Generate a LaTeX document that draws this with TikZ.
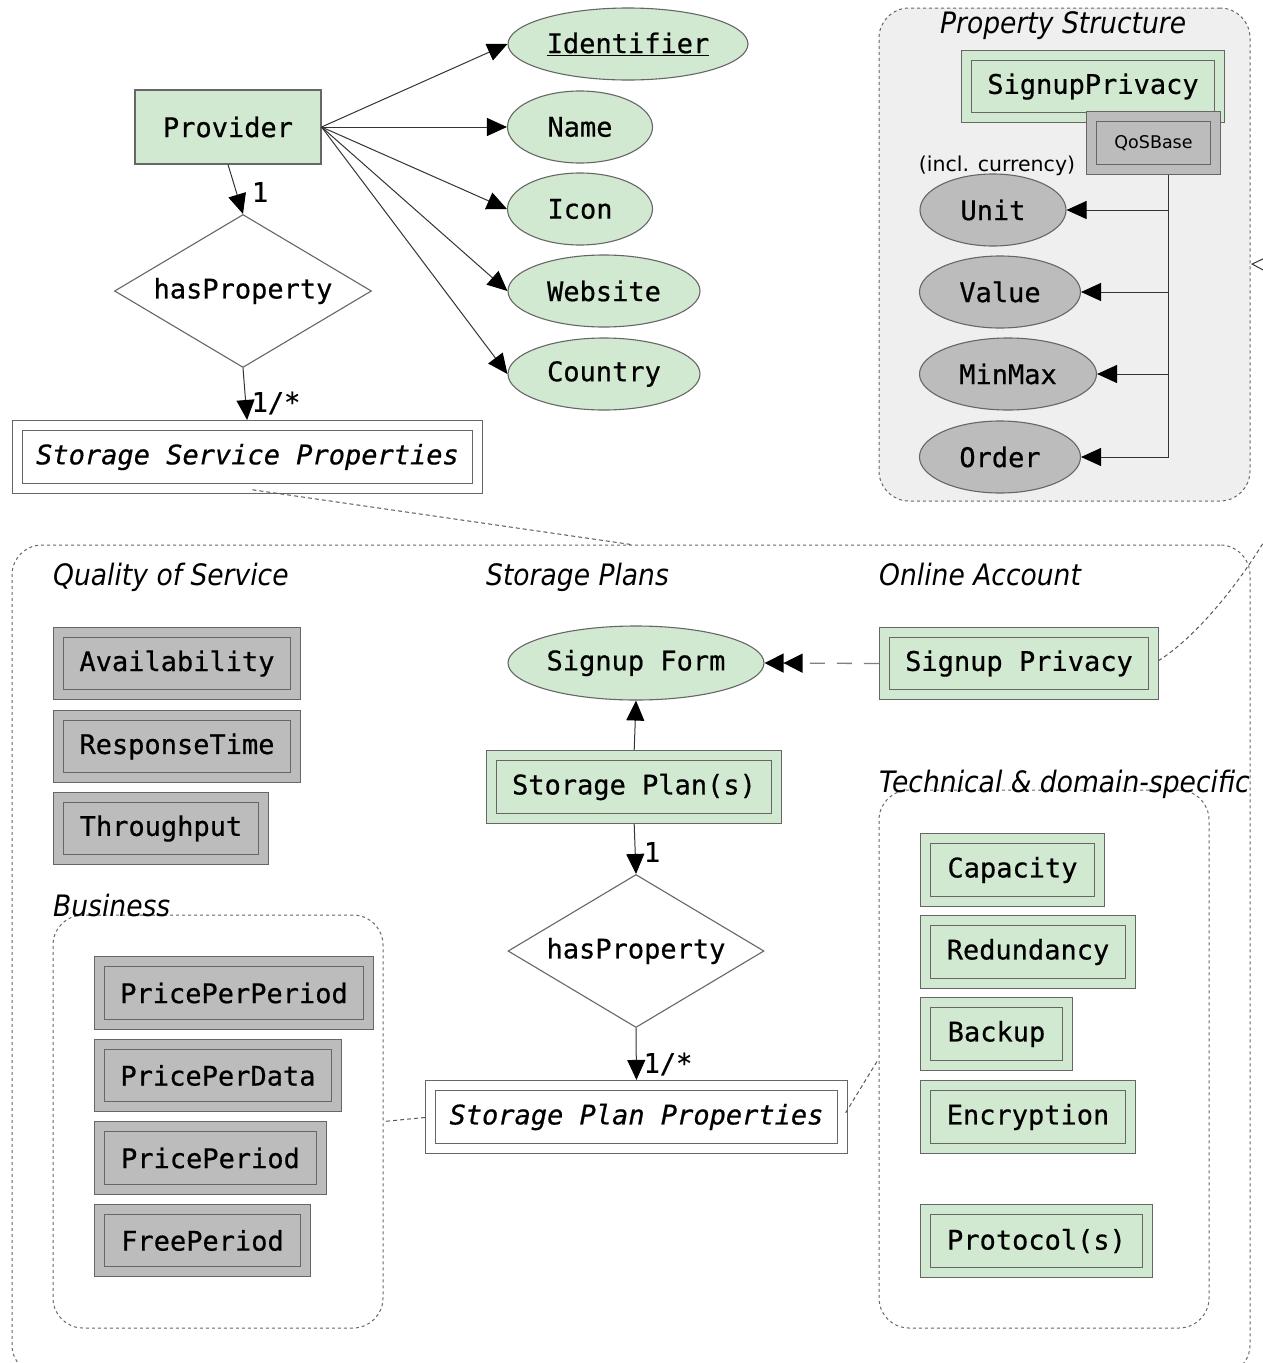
\documentclass[tikz,border=0pt]{standalone}
\usepackage{fontspec}
\setmainfont{DejaVu Sans}
\newfontfamily\monof[FakeBold=0.6]{DejaVu Sans Mono}
\newfontfamily\ttlf[FakeStretch=0.9]{DejaVu Sans}
\usetikzlibrary{shapes.geometric,arrows.meta}
\definecolor{gfill}{HTML}{D2E9D1}
\definecolor{qfill}{HTML}{BCBCBC}
\definecolor{bord}{HTML}{666666}
\definecolor{psbg}{HTML}{EFEFEF}
\tikzset{
 mtext/.style={font=\monof\fontsize{27}{32}\selectfont},
 dbl/.style={rectangle, draw=bord, line width=1.1pt, double distance=8.8pt, mtext, inner sep=0pt},
 gbox/.style={dbl, fill=gfill, double=gfill},
 qbox/.style={dbl, fill=qfill, double=qfill},
 wbox/.style={dbl, fill=white, double=white},
 sbox/.style={rectangle, draw=bord, line width=1.1pt, mtext, inner sep=0pt},
 gell/.style={ellipse, draw=bord, line width=1.1pt, fill=gfill, inner sep=0pt, mtext},
 qell/.style={ellipse, draw=bord, line width=1.1pt, fill=qfill, inner sep=0pt, mtext},
 rel/.style={diamond, draw=bord, line width=1.1pt, fill=white, inner sep=0pt, aspect=1.68, mtext},
 conn/.style={draw=black!80, line width=1pt, -{Triangle[length=20pt,width=18pt,color=black]}},
 card/.style={mtext, inner sep=0pt},
 ttl/.style={font=\ttlf\itshape\fontsize{29.5}{34}\selectfont, inner sep=0pt, anchor=base west},
 grp/.style={rectangle, draw=black!60, dash pattern=on 3pt off 3pt, line width=1pt, rounded corners=30pt, inner sep=0pt},
 assoc/.style={draw=black!65, dash pattern=on 4pt off 3pt, line width=1pt},
}
\newcommand\mybox[7]{\node[#2, minimum width={#5-#3-11}, minimum height={#6-#4-11}] (#1) at ({(#3+#5)/2},{(#4+#6)/2}) {#7};}
\begin{document}
\begin{tikzpicture}[x=1pt,y=-1pt]
\useasboundingbox (0,0) rectangle (1263,1363);
\clip (0,0) rectangle (1263,1363);
% group boxes
\node[grp, fill=psbg, minimum width=371, minimum height=493] (ps) at (1064.5,254.5) {};
\node[grp, minimum width=1238, minimum height=830] (main) at (631,960) {};
\node[grp, minimum width=330, minimum height=413] (biz) at (218,1121.5) {};
\node[grp, minimum width=330, minimum height=538] (tech) at (1044,1059) {};
% titles
\node[ttl] (tps) at (940,33) {Property Structure};
\node[ttl] (tqos) at (53,585) {Quality of Service};
\node[ttl] (tsp) at (486,585) {Storage Plans};
\node[ttl] (toa) at (879,585) {Online Account};
\node[ttl] (ttech) at (879,792) {Technical \& domain-specific};
\node[ttl] (tbiz) at (53,916) {Business};
% top left
\node[sbox, fill=gfill, minimum width=186, minimum height=74] (prov) at (228,127) {Provider};
\node[rel, minimum width=257, minimum height=153] (hp1) at (243,291) {hasProperty};
\mybox{ssp}{wbox}{12}{420}{483}{494}{\itshape Storage Service Properties}
\node[gell, minimum width=240, minimum height=72] (ident) at (628,44) {\underline{Identifier}};
\node[gell, minimum width=145, minimum height=72] (name) at (580,127) {Name};
\node[gell, minimum width=145, minimum height=72] (icon) at (580,209) {Icon};
\node[gell, minimum width=192, minimum height=72] (web) at (604,291) {Website};
\node[gell, minimum width=192, minimum height=72] (ctry) at (604,374) {Country};
\draw[conn] (prov.east) -- (ident.west);
\draw[conn] (prov.east) -- (name.west);
\draw[conn] (prov.east) -- (icon.west);
\draw[conn] (prov.east) -- (web.west);
\draw[conn] (prov.east) -- (ctry.west);
\draw[conn] (prov.south) -- (hp1.north);
\draw[conn, shorten >=5pt] (hp1.south) -- (ssp.north);
\node[card] (c1) at (260,192) {1};
\node[card] (c2) at (276,403) {1/*};
% property structure
\mybox{sprivps}{gbox}{961}{50}{1225}{123}{SignupPrivacy}
\mybox{qos}{qbox}{1086}{111}{1221}{175}{\rmfamily\fontsize{17.5}{20}\selectfont QoSBase}
\node[qell, minimum width=146, minimum height=72] (unit) at (993,210) {Unit};
\node[qell, minimum width=161, minimum height=72] (value) at (1000,292) {Value};
\node[qell, minimum width=177, minimum height=72] (minmax) at (1008,374) {MinMax};
\node[qell, minimum width=161, minimum height=72] (order) at (1000,457) {Order};
\node[inner sep=0pt, font=\rmfamily\fontsize{20.5}{24}\selectfont] (incl) at (997,166) {(incl. currency)};
\coordinate (qb) at (1168,175);
\draw[conn] (qb) |- (unit.east);
\draw[conn] (qb) |- (value.east);
\draw[conn] (qb) |- (minmax.east);
\draw[conn] (qb) |- (order.east);
% quality of service
\mybox{avail}{qbox}{53}{627}{301}{700}{Availability}
\mybox{resp}{qbox}{53}{710}{301}{783}{ResponseTime}
\mybox{thru}{qbox}{53}{792}{269}{865}{Throughput}
% business
\mybox{ppp}{qbox}{94}{956}{374}{1030}{PricePerPeriod}
\mybox{ppd}{qbox}{94}{1039}{342}{1112}{PricePerData}
\mybox{pp}{qbox}{94}{1121}{327}{1195}{PricePeriod}
\mybox{fp}{qbox}{94}{1204}{311}{1277}{FreePeriod}
% storage plans
\node[gell, minimum width=256, minimum height=74] (sform) at (636,663) {Signup Form};
\mybox{plans}{gbox}{486}{750}{782}{824}{Storage Plan(s)}
\node[rel, minimum width=256, minimum height=153] (hp2) at (636,951) {hasProperty};
\mybox{spp}{wbox}{425}{1080}{848}{1154}{\itshape Storage Plan Properties}
\draw[conn, shorten <=5pt] (plans.north) -- (sform.south);
\draw[conn, shorten <=5pt] (plans.south) -- (hp2.north);
\draw[conn, shorten >=5pt] (hp2.south) -- (spp.north);
\node[card] (c3) at (652,852) {1};
\node[card] (c4) at (668,1064) {1/*};
% online account
\mybox{sprv}{gbox}{879}{627}{1159}{700}{Signup Privacy}
\draw[draw=black!50, dash pattern=on 15pt off 12pt, line width=1.3pt, shorten <=5pt, -{Triangle[length=19pt,width=19pt,color=black] Triangle[length=19pt,width=19pt,color=black]}] (sprv.west) -- (sform.east);
% technical
\mybox{cap}{gbox}{920}{833}{1105}{907}{Capacity}
\mybox{red}{gbox}{920}{915}{1136}{989}{Redundancy}
\mybox{back}{gbox}{920}{997}{1073}{1071}{Backup}
\mybox{enc}{gbox}{920}{1080}{1136}{1154}{Encryption}
\mybox{prot}{gbox}{920}{1204}{1153}{1278}{Protocol(s)}
% associations
\draw[assoc, shorten <=5pt] (ssp.south) -- (main.north);
\draw[assoc, shorten <=5pt] (spp.west) -- (biz.east);
\draw[assoc, shorten <=5pt] (spp.east) -- (tech.west);
\coordinate (pse) at (1251,264);
\draw[assoc, shorten <=5pt, -{Triangle[open,length=20pt,width=20pt,color=black!80]}] (sprv.east) .. controls (1215,625) and (1290,520) .. (1320,420) .. controls (1340,330) and (1320,266) .. (pse);
\end{tikzpicture}
\end{document}
